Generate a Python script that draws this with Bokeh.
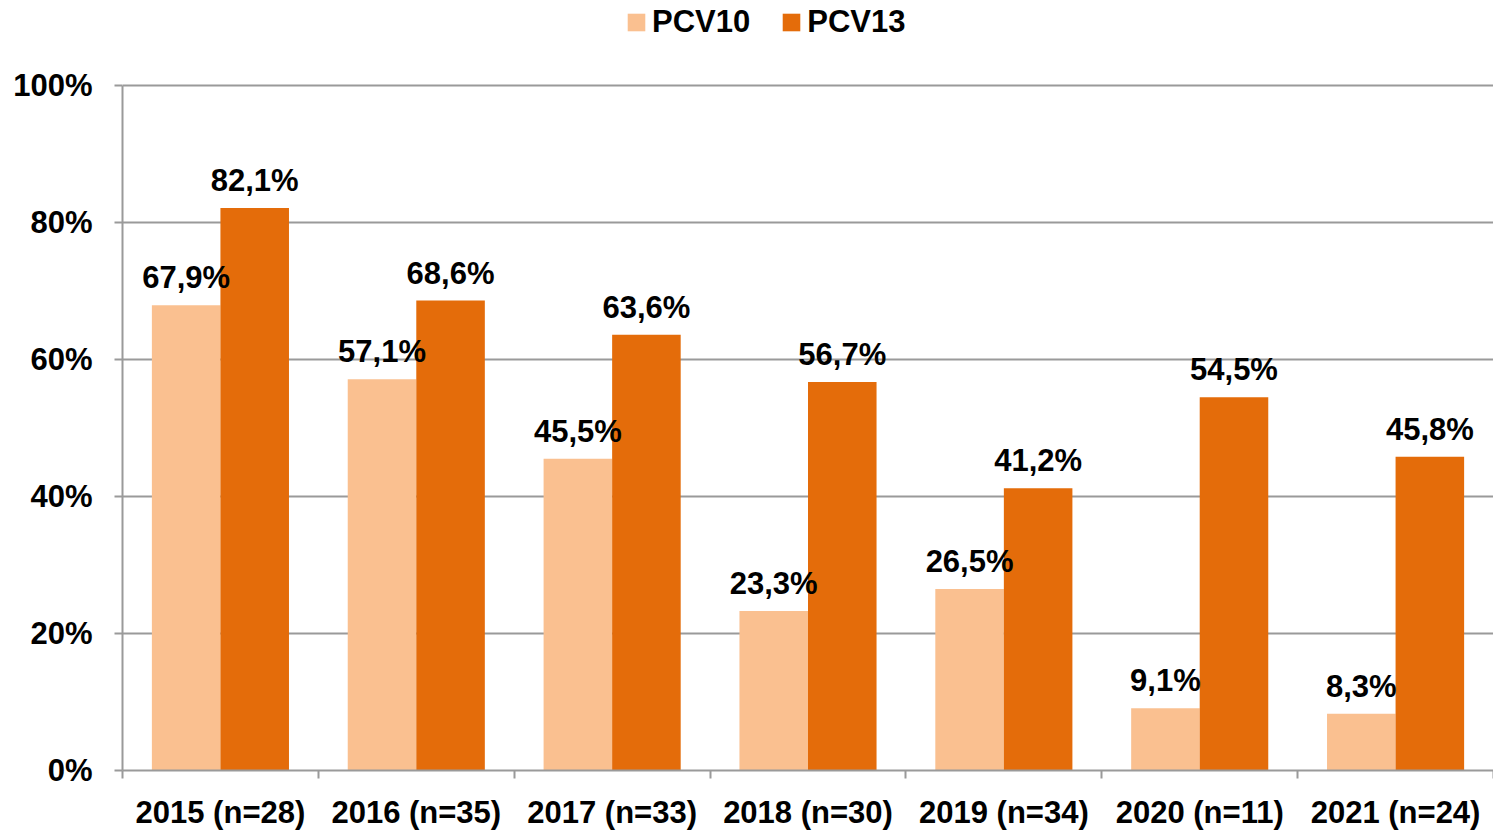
from bokeh.plotting import figure
from bokeh.models import (ColumnDataSource, FixedTicker, PrintfTickFormatter,
                          Legend, LegendItem, Range1d)
from bokeh.core.properties import value
from bokeh.embed import file_html
from bokeh.resources import INLINE

categories = ["2015 (n=28)", "2016 (n=35)", "2017 (n=33)", "2018 (n=30)",
              "2019 (n=34)", "2020 (n=11)", "2021 (n=24)"]
pcv10 = [67.9, 57.1, 45.5, 23.3, 26.5, 9.1, 8.3]
pcv13 = [82.1, 68.6, 63.6, 56.7, 41.2, 54.5, 45.8]
y_ticks = [0, 20, 40, 60, 80, 100]

C10 = "#FAC090"
C13 = "#E46C0A"
GRID = "#9a9a9a"
FONT = "Liberation Sans"
FS = "31px"
BW = 0.35

n = len(categories)
centers = [i + 0.5 for i in range(n)]
fmt = lambda v: f"{v:.1f}".replace(".", ",") + "%"

src10 = ColumnDataSource(dict(x=[c - BW / 2 for c in centers], top=pcv10,
                              label=[fmt(v) for v in pcv10]))
src13 = ColumnDataSource(dict(x=[c + BW / 2 for c in centers], top=pcv13,
                              label=[fmt(v) for v in pcv13]))

# frame spans the full top of the canvas; the extra headroom above 100% holds the legend
p = figure(width=1493, height=832, output_backend="svg", toolbar_location=None,
           x_range=Range1d(0, n), y_range=Range1d(0, 112.4),
           min_border_left=122, min_border_right=0, min_border_top=0,
           min_border_bottom=62)
p.outline_line_color = None
p.background_fill_color = "white"

r10 = p.vbar(x="x", top="top", width=BW, source=src10, fill_color=C10, line_color=None)
r13 = p.vbar(x="x", top="top", width=BW, source=src13, fill_color=C13, line_color=None)

for s in (src10, src13):
    p.text(x="x", y="top", text="label", source=s, text_align="center",
           text_baseline="bottom", y_offset=-10, text_font=value(FONT),
           text_font_style="bold", text_font_size=FS, text_color="black")

# x axis
p.xaxis.ticker = FixedTicker(ticks=centers, minor_ticks=list(range(n + 1)))
p.xaxis.major_label_overrides = {c: lab for c, lab in zip(centers, categories)}
p.xaxis.major_tick_line_color = None
p.xaxis.minor_tick_line_color = GRID
p.xaxis.minor_tick_line_width = 2
p.xaxis.minor_tick_out = 8
p.xaxis.minor_tick_in = 0
p.xaxis.axis_line_color = GRID
p.xaxis.axis_line_width = 2
p.xaxis.major_label_standoff = 16
p.xaxis.major_label_text_font = FONT
p.xaxis.major_label_text_font_style = "bold"
p.xaxis.major_label_text_font_size = FS
p.xaxis.major_label_text_color = "black"
p.xgrid.grid_line_color = None

# y axis
p.yaxis.ticker = FixedTicker(ticks=y_ticks)
p.yaxis.bounds = (y_ticks[0], y_ticks[-1])
p.yaxis.formatter = PrintfTickFormatter(format="%d%%")
p.yaxis.minor_tick_line_color = None
p.yaxis.major_tick_line_color = GRID
p.yaxis.major_tick_line_width = 2
p.yaxis.major_tick_out = 8
p.yaxis.major_tick_in = 0
p.yaxis.axis_line_color = GRID
p.yaxis.axis_line_width = 2
p.yaxis.major_label_standoff = 22
p.yaxis.major_label_text_font = FONT
p.yaxis.major_label_text_font_style = "bold"
p.yaxis.major_label_text_font_size = FS
p.yaxis.major_label_text_color = "black"
p.ygrid.grid_line_color = GRID
p.ygrid.grid_line_width = 2

legend = Legend(items=[LegendItem(label="PCV10", renderers=[r10]),
                       LegendItem(label="PCV13", renderers=[r13])],
                orientation="horizontal", location=(503, 730),
                glyph_width=22, glyph_height=22, label_standoff=5, spacing=30,
                padding=0, margin=0, border_line_color=None,
                background_fill_alpha=0,
                label_text_font=FONT, label_text_font_style="bold",
                label_text_font_size=FS, label_text_color="black")
p.add_layout(legend, "center")

open("out.html", "w").write(file_html(p, INLINE))
